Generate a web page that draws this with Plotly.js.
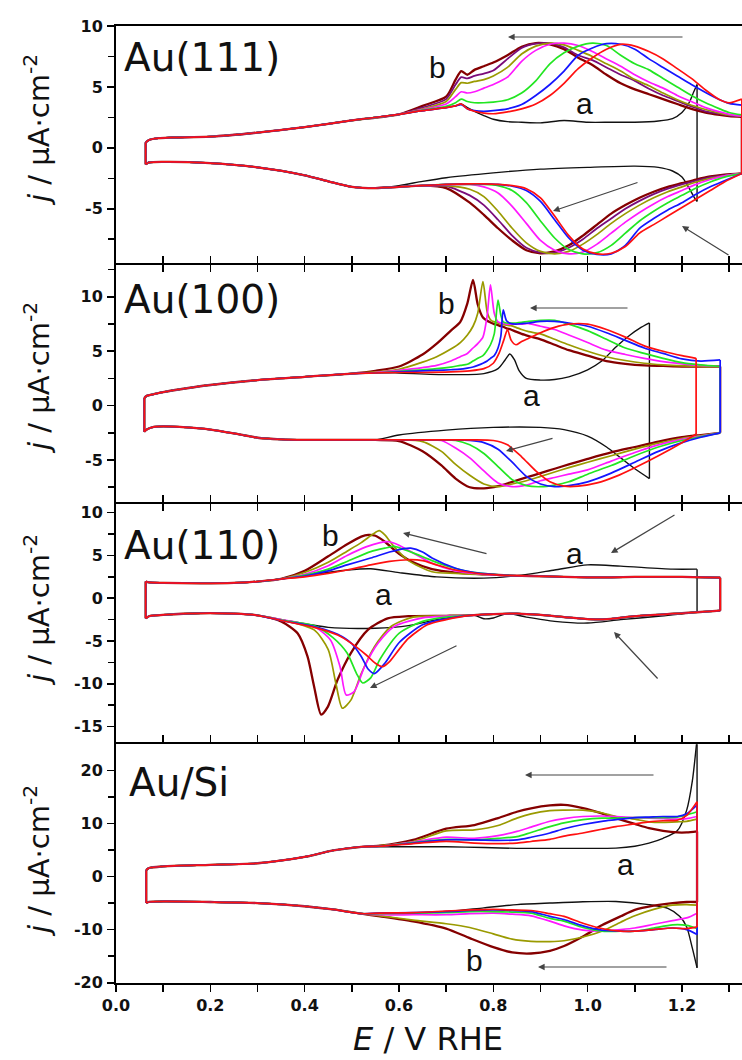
<!DOCTYPE html>
<html>
<head>
<meta charset="utf-8">
<script src="https://cdn.plot.ly/plotly-3.0.1.min.js"></script>
<style>
html,body{margin:0;padding:0;background:#fff;overflow:hidden;}
#chart{width:748px;height:1060px;}
</style>
</head>
<body>
<div id="chart"></div>
<script>
// ---------------- Panel 1 : Au(111) ----------------
const P1_CU_X = [0.063, 0.07, 0.09, 0.12, 0.2, 0.3, 0.4, 0.5, 0.6];
const P1_CU_Y = [0.45, 0.65, 0.8, 0.85, 0.92, 1.25, 1.7, 2.25, 2.75];
const P1_CL_X = [0.063, 0.07, 0.1, 0.2, 0.3, 0.4, 0.45, 0.5, 0.55];
const P1_CL_Y = [-1.35, -1.2, -1.15, -1.25, -1.6, -2.25, -2.75, -3.2, -3.3];
const P1_GU = [0.65, 0.7, 0.72, 0.732, 0.745, 0.76, 0.78, 0.8, 0.83, 0.86, 0.89, 0.92, 0.95, 0.98, 1.01, 1.04, 1.07, 1.1, 1.13, 1.16, 1.19, 1.22, 1.25, 1.28, 1.3, 1.327];
const P1_RED_U     = [3.05, 3.3, 3.45, 3.6, 3.2, 3.0, 2.85, 2.8, 2.95, 3.2, 3.6, 4.3, 5.3, 6.5, 7.4, 8.1, 8.5, 8.35, 7.9, 7.3, 6.5, 5.7, 4.75, 3.95, 3.7, 4.0];
const P1_BLUE_U    = [3.05, 3.3, 3.45, 3.55, 3.2, 3.05, 3.0, 3.05, 3.2, 3.55, 4.3, 5.2, 6.3, 7.6, 8.2, 8.55, 8.5, 8.1, 7.3, 6.6, 5.9, 5.2, 4.55, 3.95, 3.65, 3.5];
const P1_GREEN_U   = [3.1, 3.4, 3.7, 4.0, 3.8, 3.7, 3.7, 3.75, 3.95, 4.5, 5.5, 6.9, 7.8, 8.35, 8.6, 8.4, 7.6, 6.9, 6.4, 5.7, 5.0, 4.3, 3.7, 3.2, 2.9, 2.7];
const P1_MAGENTA_U = [3.15, 3.6, 4.2, 4.6, 4.5, 4.6, 4.9, 5.2, 5.8, 7.1, 8.0, 8.5, 8.6, 8.4, 7.9, 7.3, 6.7, 6.0, 5.4, 4.9, 4.3, 3.8, 3.3, 2.95, 2.75, 2.6];
const P1_OLIVE_U   = [3.2, 3.8, 4.8, 5.35, 5.3, 5.45, 5.6, 5.9, 6.6, 7.7, 8.35, 8.6, 8.45, 8.0, 7.5, 6.9, 6.3, 5.6, 5.1, 4.5, 3.95, 3.5, 3.15, 2.85, 2.7, 2.6];
const P1_PURPLE_U  = [3.3, 4.0, 5.2, 5.8, 5.7, 5.9, 6.1, 6.35, 7.3, 8.2, 8.55, 8.6, 8.25, 7.6, 7.2, 6.6, 6.0, 5.5, 4.85, 4.3, 3.85, 3.4, 3.0, 2.8, 2.65, 2.6];
const P1_MAROON_U  = [3.45, 4.2, 5.6, 6.3, 6.0, 6.4, 6.7, 7.0, 7.6, 8.3, 8.6, 8.5, 8.1, 7.4, 6.8, 6.0, 5.3, 4.8, 4.4, 4.0, 3.6, 3.2, 2.9, 2.7, 2.6, 2.55];
const P1_GL = [0.6, 0.65, 0.7, 0.75, 0.78, 0.81, 0.84, 0.87, 0.9, 0.93, 0.96, 0.99, 1.02, 1.05, 1.08, 1.11, 1.14, 1.17, 1.2, 1.23, 1.26, 1.29, 1.327];
const P1_RED_L     = [-3.2, -3.1, -3.0, -2.95, -2.95, -3.0, -3.1, -3.35, -4.1, -5.6, -7.2, -8.3, -8.7, -8.65, -8.1, -7.0, -6.3, -5.6, -4.9, -4.2, -3.5, -2.8, -2.1];
const P1_BLUE_L    = [-3.2, -3.1, -3.0, -2.95, -2.95, -3.0, -3.15, -3.5, -4.4, -5.9, -7.4, -8.4, -8.75, -8.7, -8.0, -6.6, -5.8, -5.1, -4.5, -3.8, -3.2, -2.7, -2.1];
const P1_GREEN_L   = [-3.2, -3.1, -3.0, -3.0, -3.0, -3.1, -3.5, -4.5, -6.0, -7.4, -8.35, -8.7, -8.6, -8.0, -7.0, -6.0, -5.2, -4.5, -3.9, -3.3, -2.8, -2.4, -2.1];
const P1_MAGENTA_L = [-3.2, -3.1, -3.05, -3.0, -3.2, -3.7, -4.8, -6.2, -7.6, -8.4, -8.7, -8.55, -7.9, -7.0, -6.1, -5.3, -4.6, -4.0, -3.5, -3.0, -2.6, -2.3, -2.1];
const P1_OLIVE_L   = [-3.2, -3.1, -3.1, -3.4, -4.0, -5.2, -6.6, -7.8, -8.5, -8.7, -8.5, -7.9, -7.1, -6.2, -5.4, -4.7, -4.1, -3.6, -3.2, -2.8, -2.5, -2.3, -2.1];
const P1_PURPLE_L  = [-3.2, -3.1, -3.15, -3.9, -4.7, -5.9, -7.2, -8.2, -8.6, -8.6, -8.2, -7.5, -6.6, -5.8, -5.0, -4.35, -3.8, -3.35, -3.0, -2.7, -2.4, -2.25, -2.1];
const P1_MAROON_L  = [-3.2, -3.1, -3.3, -4.5, -5.5, -6.6, -7.6, -8.4, -8.65, -8.5, -8.0, -7.2, -6.3, -5.4, -4.7, -4.1, -3.6, -3.2, -2.9, -2.6, -2.35, -2.2, -2.1];
const P1_BLACK_UX = [0.65, 0.7, 0.72, 0.732, 0.745, 0.76, 0.78, 0.8, 0.83, 0.86, 0.9, 0.95, 1.0, 1.05, 1.1, 1.15, 1.18, 1.2, 1.215, 1.225, 1.232];
const P1_BLACK_UY = [3.05, 3.3, 3.45, 3.6, 3.3, 3.0, 2.65, 2.35, 2.15, 2.1, 2.05, 2.25, 2.1, 2.1, 2.1, 2.2, 2.4, 2.9, 3.7, 4.6, 5.2];
const P1_BLACK_LX = [0.6, 0.65, 0.7, 0.8, 0.9, 1.0, 1.1, 1.15, 1.18, 1.2, 1.215, 1.225, 1.232];
const P1_BLACK_LY = [-3.1, -2.75, -2.45, -2.05, -1.75, -1.6, -1.5, -1.6, -1.9, -2.4, -3.3, -4.0, -4.4];

// ---------------- Panel 2 : Au(100) ----------------
const P2_CU_X = [0.06, 0.065, 0.08, 0.1, 0.15, 0.2, 0.3, 0.4, 0.5];
const P2_CU_Y = [0.7, 0.9, 1.05, 1.25, 1.6, 1.9, 2.35, 2.65, 2.95];
const P2_CL_X = [0.06, 0.065, 0.08, 0.1, 0.15, 0.2, 0.25, 0.3, 0.35, 0.4, 0.5];
const P2_CL_Y = [-2.4, -2.2, -1.95, -1.9, -2.0, -2.2, -2.55, -2.95, -3.1, -3.15, -3.15];
const P2_GU = [0.55, 0.6, 0.65, 0.68, 0.71, 0.73, 0.745, 0.757, 0.767, 0.778, 0.787, 0.794, 0.802, 0.81, 0.816, 0.821, 0.828, 0.837, 0.848, 0.86, 0.875, 0.9, 0.93, 0.96, 1.0, 1.04, 1.08, 1.12, 1.16, 1.2, 1.24, 1.281];
const P2_MAROON_U  = [3.2, 3.6, 4.7, 5.7, 6.9, 7.7, 9.4, 11.55, 9.3, 8.1, 7.8, 7.65, 7.5, 7.4, 7.3, 7.25, 7.1, 7.0, 6.8, 6.6, 6.4, 6.1, 5.6, 5.1, 4.6, 4.1, 3.85, 3.7, 3.65, 3.6, 3.6, 3.6];
const P2_OLIVE_U   = [3.1, 3.35, 4.0, 4.5, 5.2, 5.8, 6.5, 7.3, 8.5, 11.4, 8.6, 7.9, 7.7, 7.6, 7.5, 7.45, 7.4, 7.35, 7.2, 7.0, 6.8, 6.6, 6.1, 5.6, 5.0, 4.5, 4.15, 3.9, 3.75, 3.65, 3.6, 3.6];
const P2_MAGENTA_U = [3.05, 3.25, 3.5, 3.7, 4.1, 4.5, 4.8, 5.3, 5.7, 6.3, 8.3, 11.1, 8.5, 7.7, 7.6, 7.55, 7.5, 7.5, 7.5, 7.5, 7.55, 7.3, 7.0, 6.5, 5.8, 5.1, 4.7, 4.35, 4.05, 3.85, 3.7, 3.6];
const P2_GREEN_U   = [3.0, 3.15, 3.3, 3.4, 3.55, 3.7, 3.8, 4.1, 4.35, 4.6, 5.1, 5.6, 6.6, 9.7, 8.3, 7.7, 7.6, 7.6, 7.6, 7.65, 7.75, 7.85, 7.85, 7.5, 6.9, 6.1, 5.3, 4.8, 4.35, 3.95, 3.75, 3.6];
const P2_BLUE_U    = [3.0, 3.1, 3.2, 3.25, 3.3, 3.35, 3.45, 3.55, 3.7, 3.9, 4.1, 4.35, 4.6, 5.3, 6.4, 8.8, 7.8, 7.55, 7.5, 7.55, 7.6, 7.75, 7.75, 7.6, 7.3, 6.7, 6.0, 5.3, 4.8, 4.3, 4.1, 4.2];
const P2_RED_UX = [0.55, 0.6, 0.65, 0.71, 0.75, 0.78, 0.8, 0.812, 0.822, 0.83, 0.838, 0.848, 0.86, 0.875, 0.9, 0.93, 0.96, 1.0, 1.04, 1.08, 1.12, 1.16, 1.2, 1.23];
const P2_RED_UY = [3.0, 3.05, 3.05, 3.1, 3.2, 3.4, 3.9, 4.8, 6.0, 7.0, 6.0, 5.6, 5.9, 6.2, 6.7, 7.2, 7.5, 7.5, 7.0, 6.3, 5.5, 5.0, 4.6, 4.35];
const P2_GL = [0.55, 0.6, 0.65, 0.69, 0.72, 0.75, 0.78, 0.81, 0.84, 0.87, 0.9, 0.93, 0.96, 1.0, 1.05, 1.1, 1.15, 1.2, 1.24, 1.281];
const P2_MAROON_L  = [-3.15, -3.25, -4.2, -5.5, -6.7, -7.5, -7.6, -7.4, -7.0, -6.6, -6.2, -5.8, -5.4, -4.9, -4.3, -3.8, -3.3, -2.9, -2.7, -2.5];
const P2_OLIVE_L   = [-3.15, -3.15, -3.3, -4.2, -5.4, -6.4, -7.2, -7.45, -7.2, -6.9, -6.5, -6.1, -5.7, -5.2, -4.6, -4.0, -3.45, -3.0, -2.75, -2.5];
const P2_MAGENTA_L = [-3.15, -3.15, -3.15, -3.2, -3.9, -4.8, -6.0, -7.1, -7.45, -7.3, -6.9, -6.6, -6.3, -5.9, -5.1, -4.3, -3.6, -3.1, -2.8, -2.5];
const P2_GREEN_L   = [-3.15, -3.15, -3.15, -3.15, -3.2, -3.6, -4.4, -5.6, -6.8, -7.35, -7.45, -7.3, -7.0, -6.3, -5.5, -4.6, -3.8, -3.2, -2.85, -2.5];
const P2_BLUE_L    = [-3.15, -3.15, -3.15, -3.15, -3.15, -3.2, -3.4, -4.0, -5.2, -6.5, -7.2, -7.45, -7.35, -7.0, -6.2, -5.2, -4.2, -3.4, -2.9, -2.5];
const P2_RED_LX = [0.55, 0.6, 0.65, 0.7, 0.75, 0.8, 0.83, 0.86, 0.89, 0.92, 0.95, 0.98, 1.02, 1.06, 1.1, 1.15, 1.2, 1.23];
const P2_RED_LY = [-3.15, -3.15, -3.15, -3.15, -3.15, -3.2, -3.6, -4.7, -6.0, -7.0, -7.4, -7.4, -7.1, -6.5, -5.7, -4.6, -3.4, -2.6];
const P2_BLACK_UX = [0.55, 0.6, 0.7, 0.78, 0.81, 0.825, 0.835, 0.845, 0.855, 0.87, 0.9, 0.93, 0.96, 1.0, 1.03, 1.06, 1.09, 1.11, 1.131];
const P2_BLACK_UY = [3.05, 3.0, 2.85, 2.95, 3.4, 4.2, 4.75, 4.2, 3.2, 2.5, 2.35, 2.4, 2.65, 3.3, 4.1, 5.4, 6.5, 7.1, 7.6];
const P2_BLACK_LX = [0.55, 0.6, 0.7, 0.8, 0.9, 0.95, 1.0, 1.04, 1.07, 1.1, 1.131];
const P2_BLACK_LY = [-3.15, -2.7, -2.25, -2.0, -2.0, -2.2, -2.8, -3.8, -4.8, -5.8, -6.7];

// ---------------- Panel 3 : Au(110) ----------------
const P3_CU_X = [0.063, 0.07, 0.1, 0.18, 0.25, 0.3];
const P3_CU_Y = [1.95, 1.85, 1.8, 1.75, 1.8, 1.95];
const P3_CL_X = [0.063, 0.07, 0.1, 0.18, 0.25, 0.3];
const P3_CL_Y = [-2.35, -2.1, -1.95, -1.75, -1.8, -2.0];
const P3_TU_X = [0.88, 0.95, 1.0, 1.05, 1.1, 1.15, 1.2, 1.25, 1.281];
const P3_TU_Y = [2.6, 2.5, 2.45, 2.45, 2.5, 2.5, 2.5, 2.45, 2.4];
const P3_TL_X = [0.75, 0.8, 0.85, 0.9, 0.95, 1.0, 1.05, 1.1, 1.2, 1.281];
const P3_TL_Y = [-2.0, -1.85, -1.8, -1.95, -2.2, -2.45, -2.4, -2.1, -1.75, -1.45];
const P3_MAROON_UX  = [0.35, 0.4, 0.45, 0.49, 0.52, 0.535, 0.55, 0.57, 0.6, 0.63, 0.67, 0.72, 0.78, 0.84];
const P3_MAROON_UY  = [2.25, 3.2, 4.9, 6.3, 7.2, 7.4, 7.3, 6.6, 5.2, 4.2, 3.4, 3.0, 2.8, 2.65];
const P3_OLIVE_UX   = [0.35, 0.4, 0.45, 0.49, 0.52, 0.545, 0.558, 0.57, 0.59, 0.62, 0.67, 0.72, 0.78, 0.84];
const P3_OLIVE_UY   = [2.25, 3.0, 4.2, 5.5, 6.5, 7.5, 7.9, 7.4, 6.0, 4.4, 3.1, 2.9, 2.75, 2.65];
const P3_MAGENTA_UX = [0.35, 0.4, 0.45, 0.49, 0.53, 0.56, 0.578, 0.6, 0.62, 0.67, 0.72, 0.78, 0.84];
const P3_MAGENTA_UY = [2.25, 2.8, 3.8, 5.0, 6.0, 6.5, 6.6, 6.2, 5.6, 4.1, 3.2, 2.8, 2.65];
const P3_GREEN_UX   = [0.35, 0.4, 0.45, 0.49, 0.54, 0.57, 0.59, 0.61, 0.63, 0.67, 0.7, 0.75, 0.8, 0.84];
const P3_GREEN_UY   = [2.25, 2.7, 3.4, 4.3, 5.45, 5.85, 6.05, 5.7, 5.3, 4.4, 3.8, 3.1, 2.8, 2.65];
const P3_BLUE_UX    = [0.35, 0.4, 0.45, 0.49, 0.54, 0.58, 0.61, 0.625, 0.65, 0.67, 0.72, 0.76, 0.8, 0.84];
const P3_BLUE_UY    = [2.25, 2.6, 3.2, 3.9, 4.7, 5.4, 5.8, 5.85, 5.4, 4.7, 3.5, 3.0, 2.8, 2.65];
const P3_RED_UX     = [0.35, 0.4, 0.45, 0.49, 0.54, 0.58, 0.62, 0.65, 0.68, 0.72, 0.76, 0.8, 0.84];
const P3_RED_UY     = [2.25, 2.5, 2.9, 3.3, 3.9, 4.3, 4.5, 4.4, 3.9, 3.3, 2.95, 2.75, 2.65];
const P3_MAROON_LX  = [0.35, 0.385, 0.406, 0.42, 0.435, 0.449, 0.47, 0.498, 0.534, 0.576, 0.62, 0.7];
const P3_MAROON_LY  = [-2.7, -4.1, -6.8, -10.3, -13.6, -12.7, -9.5, -6.4, -3.7, -2.35, -2.1, -2.05];
const P3_OLIVE_LX   = [0.35, 0.42, 0.45, 0.466, 0.48, 0.498, 0.52, 0.548, 0.583, 0.63, 0.7];
const P3_OLIVE_LY   = [-2.5, -3.7, -6.0, -9.9, -12.85, -11.9, -8.8, -5.65, -3.3, -2.2, -2.05];
const P3_MAGENTA_LX = [0.35, 0.42, 0.455, 0.475, 0.488, 0.505, 0.527, 0.555, 0.59, 0.65, 0.7];
const P3_MAGENTA_LY = [-2.5, -3.3, -4.9, -8.0, -11.3, -10.9, -8.0, -5.3, -3.3, -2.3, -2.1];
const P3_GREEN_LX   = [0.35, 0.42, 0.46, 0.49, 0.51, 0.523, 0.54, 0.56, 0.6, 0.65, 0.7];
const P3_GREEN_LY   = [-2.55, -3.2, -4.6, -6.4, -8.8, -9.9, -9.3, -7.1, -4.1, -2.7, -2.2];
const P3_BLUE_LX    = [0.35, 0.42, 0.47, 0.5, 0.52, 0.535, 0.548, 0.57, 0.6, 0.65, 0.7];
const P3_BLUE_LY    = [-2.6, -3.3, -4.2, -5.3, -6.8, -8.3, -8.8, -7.6, -5.2, -3.1, -2.4];
const P3_RED_LX     = [0.35, 0.42, 0.47, 0.5, 0.53, 0.55, 0.565, 0.58, 0.6, 0.62, 0.66, 0.7];
const P3_RED_LY     = [-2.6, -3.4, -4.3, -5.3, -6.6, -7.6, -8.0, -7.4, -6.0, -4.7, -3.1, -2.5];
const P3_BLACK_UX = [0.35, 0.42, 0.49, 0.54, 0.6, 0.68, 0.78, 0.86, 0.93, 1.0, 1.07, 1.18, 1.232];
const P3_BLACK_UY = [2.25, 2.8, 3.3, 3.45, 3.0, 2.5, 2.35, 2.7, 3.3, 3.9, 3.75, 3.4, 3.4];
const P3_BLACK_LX = [0.35, 0.45, 0.55, 0.62, 0.68, 0.72, 0.76, 0.78, 0.8, 0.83, 0.87, 0.93, 1.0, 1.07, 1.15, 1.232];
const P3_BLACK_LY = [-2.5, -3.4, -3.5, -3.2, -2.5, -2.1, -2.0, -2.4, -2.3, -1.8, -2.2, -2.7, -2.9, -2.5, -2.1, -1.6];

// ---------------- Panel 4 : Au/Si ----------------
const P4_CU_X = [0.064, 0.07, 0.1, 0.2, 0.3, 0.4, 0.46, 0.52];
const P4_CU_Y = [1.2, 1.6, 1.9, 2.2, 2.5, 3.7, 4.9, 5.6];
const P4_CL_X = [0.064, 0.07, 0.1, 0.2, 0.3, 0.4, 0.46, 0.52];
const P4_CL_Y = [-5.0, -4.8, -4.7, -4.8, -5.0, -5.6, -6.2, -7.0];
const P4_GU = [0.56, 0.63, 0.7, 0.76, 0.81, 0.85, 0.88, 0.92, 0.95, 0.99, 1.03, 1.06, 1.1, 1.13, 1.16, 1.19, 1.21, 1.232];
const P4_MAROON_U  = [5.8, 6.9, 9.0, 9.7, 11.0, 12.2, 12.85, 13.4, 13.5, 12.9, 11.9, 11.0, 9.9, 9.1, 8.6, 8.3, 8.3, 8.5];
const P4_OLIVE_U   = [5.8, 6.6, 8.6, 8.8, 9.6, 11.0, 11.8, 12.4, 12.5, 12.5, 12.0, 11.3, 10.8, 10.3, 10.2, 10.3, 10.4, 10.8];
const P4_MAGENTA_U = [5.7, 6.5, 7.4, 7.2, 7.7, 8.5, 9.3, 10.4, 10.9, 11.3, 11.4, 11.3, 11.1, 11.0, 10.9, 10.8, 10.9, 11.3];
const P4_GREEN_U   = [5.7, 6.4, 7.0, 6.9, 7.2, 7.5, 8.3, 9.4, 10.1, 10.7, 11.0, 11.0, 11.1, 11.1, 11.1, 11.2, 11.6, 12.2];
const P4_BLUE_U    = [5.7, 6.3, 6.9, 6.9, 6.8, 6.9, 7.4, 8.2, 9.0, 9.8, 10.4, 10.7, 11.1, 11.2, 11.3, 11.3, 11.8, 13.5];
const P4_RED_U     = [5.7, 6.2, 6.6, 6.3, 6.2, 6.3, 6.6, 7.0, 7.6, 8.2, 8.9, 9.4, 9.9, 10.3, 10.5, 10.6, 11.5, 14.1];
const P4_GL = [0.56, 0.63, 0.7, 0.75, 0.8, 0.84, 0.88, 0.92, 0.95, 0.99, 1.03, 1.07, 1.1, 1.14, 1.18, 1.21, 1.232];
const P4_MAROON_L  = [-7.5, -8.45, -9.8, -11.6, -13.3, -14.3, -14.5, -14.0, -13.1, -11.3, -9.2, -7.5, -6.3, -5.5, -5.0, -4.8, -4.8];
const P4_OLIVE_L   = [-7.4, -8.2, -8.9, -9.6, -10.8, -11.8, -12.2, -12.25, -12.1, -11.4, -10.3, -8.6, -7.4, -6.2, -5.4, -5.3, -5.4];
const P4_MAGENTA_L = [-7.2, -7.2, -7.2, -7.0, -6.9, -7.1, -7.4, -8.4, -9.3, -10.1, -10.3, -10.0, -9.7, -9.0, -8.3, -7.8, -6.9];
const P4_GREEN_L   = [-7.0, -6.9, -6.8, -6.6, -6.6, -6.7, -6.9, -7.9, -8.4, -9.6, -10.3, -10.3, -10.3, -9.7, -9.1, -9.2, -9.8];
const P4_BLUE_L    = [-6.9, -6.8, -6.6, -6.4, -6.3, -6.4, -6.6, -7.5, -8.1, -9.3, -10.1, -10.3, -10.3, -10.0, -9.7, -10.0, -10.9];
const P4_RED_L     = [-6.9, -6.8, -6.5, -6.3, -6.2, -6.3, -6.4, -7.0, -7.5, -8.8, -9.8, -10.3, -10.3, -10.0, -9.7, -9.8, -9.5];
const P4_BLACK_UX = [0.56, 0.63, 0.7, 0.78, 0.85, 0.92, 0.99, 1.06, 1.1, 1.13, 1.16, 1.19, 1.21, 1.222, 1.232];
const P4_BLACK_UY = [5.6, 5.6, 5.6, 5.45, 5.3, 5.3, 5.3, 5.35, 5.7, 6.3, 7.2, 8.6, 12.5, 18.0, 26.0];
const P4_BLACK_LX = [0.56, 0.63, 0.7, 0.78, 0.85, 0.92, 0.99, 1.06, 1.13, 1.17, 1.195, 1.21, 1.222, 1.232];
const P4_BLACK_LY = [-6.9, -6.9, -6.6, -5.9, -5.3, -5.0, -4.75, -4.7, -5.3, -6.0, -7.5, -9.5, -13.5, -17.2];

// ---------------- ticks ----------------
const X_MAJOR = [0, 0.2, 0.4, 0.6, 0.8, 1.0, 1.2];
const X_LABELS = ['0.0', '0.2', '0.4', '0.6', '0.8', '1.0', '1.2'];
const X_MINOR = [0.1, 0.3, 0.5, 0.7, 0.9, 1.1, 1.3];
const Y1_MAJOR = [-5, 0, 5, 10], Y1_LABELS = ['-5', '0', '5', '10'], Y1_MINOR = [-7.5, -2.5, 2.5, 7.5];
const Y2_MAJOR = [-5, 0, 5, 10], Y2_LABELS = ['-5', '0', '5', '10'], Y2_MINOR = [-7.5, -2.5, 2.5, 7.5, 12.5];
const Y3_MAJOR = [-15, -10, -5, 0, 5, 10], Y3_LABELS = ['-15', '-10', '-5', '0', '5', '10'], Y3_MINOR = [-12.5, -7.5, -2.5, 2.5, 7.5];
const Y4_MAJOR = [-20, -10, 0, 10, 20], Y4_LABELS = ['-20', '-10', '0', '10', '20'], Y4_MINOR = [-15, -5, 5, 15];

const COLORS = {black: '#111111', red: '#ff1010', blue: '#1515ff', green: '#22e622', magenta: '#ff18ff', olive: '#9a9a00', purple: '#7a0c7a', maroon: '#850000'};
const WIDTHS = {black: 1.4, red: 1.7, blue: 1.7, green: 1.7, magenta: 1.7, olive: 1.7, purple: 1.8, maroon: 2.3};

// ---------------- build ----------------
const W = 748, H = 1060, L = 116;
const traces = [];
function addLoop(upX, upY, loX, loY, key, xa, ya) {
  const n = upX.length, m = loX.length;
  traces.push({
    type: 'scatter', mode: 'lines', xaxis: xa, yaxis: ya, hoverinfo: 'skip',
    x: [...upX, null, ...loX, null, upX[0], loX[0], null, upX[n - 1], loX[m - 1]],
    y: [...upY, null, ...loY, null, upY[0], loY[0], null, upY[n - 1], loY[m - 1]],
    line: {color: COLORS[key], width: WIDTHS[key], shape: 'spline', smoothing: 0.7},
    connectgaps: false
  });
}
addLoop([...P1_CU_X, ...P1_BLACK_UX], [...P1_CU_Y, ...P1_BLACK_UY], [...P1_CL_X, ...P1_BLACK_LX], [...P1_CL_Y, ...P1_BLACK_LY], 'black', 'x', 'y');
[['maroon', P1_MAROON_U, P1_MAROON_L], ['purple', P1_PURPLE_U, P1_PURPLE_L], ['olive', P1_OLIVE_U, P1_OLIVE_L],
 ['magenta', P1_MAGENTA_U, P1_MAGENTA_L], ['green', P1_GREEN_U, P1_GREEN_L], ['blue', P1_BLUE_U, P1_BLUE_L], ['red', P1_RED_U, P1_RED_L]]
  .forEach(([k, u, l]) => addLoop([...P1_CU_X, ...P1_GU], [...P1_CU_Y, ...u], [...P1_CL_X, ...P1_GL], [...P1_CL_Y, ...l], k, 'x', 'y'));
addLoop([...P2_CU_X, ...P2_BLACK_UX], [...P2_CU_Y, ...P2_BLACK_UY], [...P2_CL_X, ...P2_BLACK_LX], [...P2_CL_Y, ...P2_BLACK_LY], 'black', 'x2', 'y2');
[['maroon', P2_MAROON_U, P2_MAROON_L], ['olive', P2_OLIVE_U, P2_OLIVE_L], ['magenta', P2_MAGENTA_U, P2_MAGENTA_L],
 ['green', P2_GREEN_U, P2_GREEN_L], ['blue', P2_BLUE_U, P2_BLUE_L]]
  .forEach(([k, u, l]) => addLoop([...P2_CU_X, ...P2_GU], [...P2_CU_Y, ...u], [...P2_CL_X, ...P2_GL], [...P2_CL_Y, ...l], k, 'x2', 'y2'));
addLoop([...P2_CU_X, ...P2_RED_UX], [...P2_CU_Y, ...P2_RED_UY], [...P2_CL_X, ...P2_RED_LX], [...P2_CL_Y, ...P2_RED_LY], 'red', 'x2', 'y2');
addLoop([...P3_CU_X, ...P3_BLACK_UX], [...P3_CU_Y, ...P3_BLACK_UY], [...P3_CL_X, ...P3_BLACK_LX], [...P3_CL_Y, ...P3_BLACK_LY], 'black', 'x3', 'y3');
[['maroon', P3_MAROON_UX, P3_MAROON_UY, P3_MAROON_LX, P3_MAROON_LY], ['olive', P3_OLIVE_UX, P3_OLIVE_UY, P3_OLIVE_LX, P3_OLIVE_LY],
 ['magenta', P3_MAGENTA_UX, P3_MAGENTA_UY, P3_MAGENTA_LX, P3_MAGENTA_LY], ['green', P3_GREEN_UX, P3_GREEN_UY, P3_GREEN_LX, P3_GREEN_LY],
 ['blue', P3_BLUE_UX, P3_BLUE_UY, P3_BLUE_LX, P3_BLUE_LY], ['red', P3_RED_UX, P3_RED_UY, P3_RED_LX, P3_RED_LY]]
  .forEach(([k, ux, uy, lx, ly]) => addLoop([...P3_CU_X, ...ux, ...P3_TU_X], [...P3_CU_Y, ...uy, ...P3_TU_Y],
                                           [...P3_CL_X, ...lx, ...P3_TL_X], [...P3_CL_Y, ...ly, ...P3_TL_Y], k, 'x3', 'y3'));
addLoop([...P4_CU_X, ...P4_BLACK_UX], [...P4_CU_Y, ...P4_BLACK_UY], [...P4_CL_X, ...P4_BLACK_LX], [...P4_CL_Y, ...P4_BLACK_LY], 'black', 'x4', 'y4');
[['maroon', P4_MAROON_U, P4_MAROON_L], ['olive', P4_OLIVE_U, P4_OLIVE_L], ['magenta', P4_MAGENTA_U, P4_MAGENTA_L],
 ['green', P4_GREEN_U, P4_GREEN_L], ['blue', P4_BLUE_U, P4_BLUE_L], ['red', P4_RED_U, P4_RED_L]]
  .forEach(([k, u, l]) => addLoop([...P4_CU_X, ...P4_GU], [...P4_CU_Y, ...u], [...P4_CL_X, ...P4_GL], [...P4_CL_Y, ...l], k, 'x4', 'y4'));

// ---------------- layout ----------------
const FONT = 'Liberation Sans, Arial, Helvetica, sans-serif';
const WIDE = 'DejaVu Sans, Verdana, sans-serif';
const PX = px => (px - L) / (W - L);
const PY = py => 1 - py / H;
function xAx(anchor, labels, ticks, mirror) {
  return {anchor, domain: [0, 1], range: [0, 1.34], tickmode: 'array', tickvals: X_MAJOR, ticktext: X_LABELS,
    showticklabels: labels, ticks, ticklen: 7, tickwidth: 1.6, tickcolor: '#000', showline: true, linewidth: 2,
    minor: {tickvals: X_MINOR, ticks, ticklen: 7, tickwidth: 1.6, tickcolor: '#000'},
    linecolor: '#000', mirror, showgrid: false, zeroline: false,
    tickfont: {family: WIDE, size: 16, color: '#111', weight: 'bold'}};
}
function yAx(anchor, domain, range, tv, tt, mv) {
  return {anchor, domain, range, tickmode: 'array', tickvals: tv, ticktext: tt, ticks: 'outside', ticklen: 7,
    tickwidth: 1.6, tickcolor: '#000', showline: true, linewidth: 2, linecolor: '#000', mirror: true,
    minor: {tickvals: mv, ticks: 'outside', ticklen: 6, tickwidth: 1.6, tickcolor: '#000'},
    showgrid: false, zeroline: false, ticklabelstandoff: 1,
    tickfont: {family: WIDE, size: 16, color: '#111', weight: 'bold'}};
}
const D1 = [PY(263), PY(26)], D2 = [PY(501.5), PY(265)], D3 = [PY(742.3), PY(503.5)], D4 = [PY(982.7), PY(744.3)];

const annotations = [];
function txt(px, py, text, size, opts, fam) {
  annotations.push(Object.assign({xref: 'paper', yref: 'paper', x: PX(px), y: PY(py), text, showarrow: false,
    xanchor: 'center', yanchor: 'middle', font: {family: fam || FONT, size, color: '#111'}}, opts || {}));
}
function arrow(hx, hy, tx, ty) {
  annotations.push({xref: 'paper', yref: 'paper', x: PX(hx), y: PY(hy), ax: tx - hx, ay: ty - hy, text: '',
    showarrow: true, arrowhead: 2, arrowsize: 1.1, arrowwidth: 1.2, arrowcolor: '#444', standoff: 0, startstandoff: 0});
}
txt(122, 57, 'Au(111)', 39, {xanchor: 'left'}, WIDE);
txt(122, 300, 'Au(100)', 39, {xanchor: 'left'}, WIDE);
txt(122, 545, 'Au(110)', 39, {xanchor: 'left'}, WIDE);
txt(127, 782, 'Au/Si', 39, {xanchor: 'left'}, WIDE);
const YT = '<i>j</i> / \u03bcA\u00b7cm<sup>-2</sup>';
txt(37, 130, YT, 29, {textangle: -90}, WIDE);
txt(37, 378, YT, 29, {textangle: -90}, WIDE);
txt(37, 610, YT, 29, {textangle: -90}, WIDE);
txt(37, 861, YT, 29, {textangle: -90}, WIDE);
txt(428, 1060, '<i>E</i> / V RHE', 32, {yanchor: 'bottom'}, WIDE);
txt(437, 68, 'b', 30); txt(584, 104, 'a', 30);
txt(446, 303, 'b', 30); txt(531, 396, 'a', 30);
txt(330, 535, 'b', 30); txt(574, 553, 'a', 30); txt(383, 594, 'a', 30);
txt(625, 864, 'a', 30); txt(474, 960, 'b', 30);
arrow(508, 37, 684, 37); arrow(553, 211, 639, 182); arrow(682, 226, 730, 256);
arrow(530, 308, 629, 308); arrow(506, 451, 554, 438);
arrow(403, 533, 488, 554); arrow(611, 553, 676, 514); arrow(370, 688, 458, 645); arrow(614, 632, 659, 680);
arrow(525, 775, 655, 775); arrow(538, 967, 668, 967);

const layout = {
  width: W, height: H, margin: {l: L, r: 0, t: 0, b: 0}, paper_bgcolor: '#fff', plot_bgcolor: '#fff',
  showlegend: false, font: {family: FONT, color: '#111'},
  xaxis: xAx('y', false, 'inside', true),
  xaxis2: xAx('y2', false, 'inside', 'ticks'),
  xaxis3: xAx('y3', false, 'inside', 'ticks'),
  xaxis4: xAx('y4', true, 'outside', false),
  xaxis5: Object.assign(xAx('y4', false, 'inside', 'ticks'), {overlaying: 'x4'}),
  yaxis: yAx('x', D1, [-9.45, 10.0], Y1_MAJOR, Y1_LABELS, Y1_MINOR),
  yaxis2: yAx('x2', D2, [-8.81, 12.93], Y2_MAJOR, Y2_LABELS, Y2_MINOR),
  yaxis3: yAx('x3', D3, [-16.83, 11.07], Y3_MAJOR, Y3_LABELS, Y3_MINOR),
  yaxis4: yAx('x4', D4, [-20, 24.9], Y4_MAJOR, Y4_LABELS, Y4_MINOR),
  annotations
};
Plotly.newPlot('chart', traces, layout, {staticPlot: true, displayModeBar: false});
</script>
</body>
</html>
